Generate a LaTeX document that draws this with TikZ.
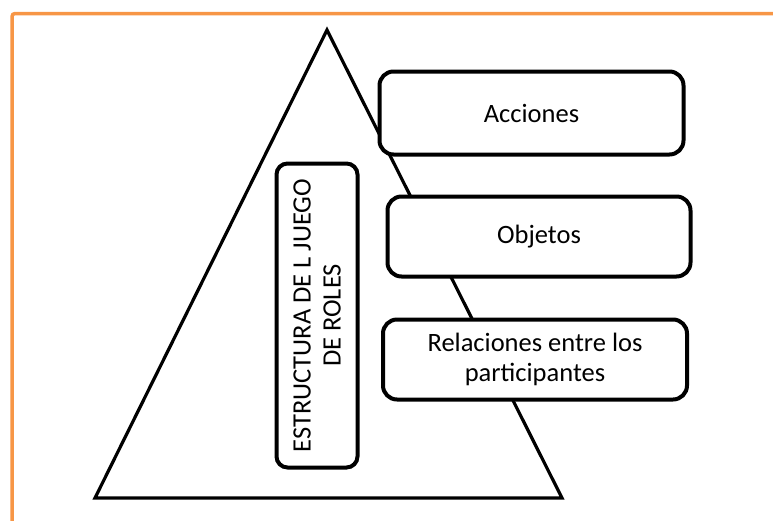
\documentclass[tikz,border=0pt]{standalone}
\usepackage{fontspec}
\setmainfont{Carlito}
\definecolor{framecolor}{RGB}{247,150,70}

\begin{document}
\begin{tikzpicture}[x=1pt,y=-1pt,
  rolebox/.style={draw,fill=white,line width=4pt,rounded corners=14pt,align=center,
    font=\fontsize{26.5}{30}\selectfont,inner sep=0pt}]
\useasboundingbox (0,0) rectangle (773,520);
\draw[framecolor,line width=3.5pt,rounded corners=3pt] (12,524) |- (777,13.5);
\draw[line width=3.2pt] (327,30) -- (562,498) -- (95,498) -- cycle;
\node[rolebox,minimum width=304pt,minimum height=83pt] (acciones) at (531.5,113) {Acciones};
\node[rolebox,minimum width=303pt,minimum height=80pt] (objetos) at (539,236.5) {Objetos};
\node[rolebox,minimum width=304pt,minimum height=80pt] (relaciones) at (535,359.5) {Relaciones entre los\\participantes};
\node[rolebox,rounded corners=11pt,rotate=90,minimum width=304pt,minimum height=81pt] (estructura) at (317,315.5) {ESTRUCTURA DE L JUEGO\\DE ROLES};
\end{tikzpicture}
\end{document}
